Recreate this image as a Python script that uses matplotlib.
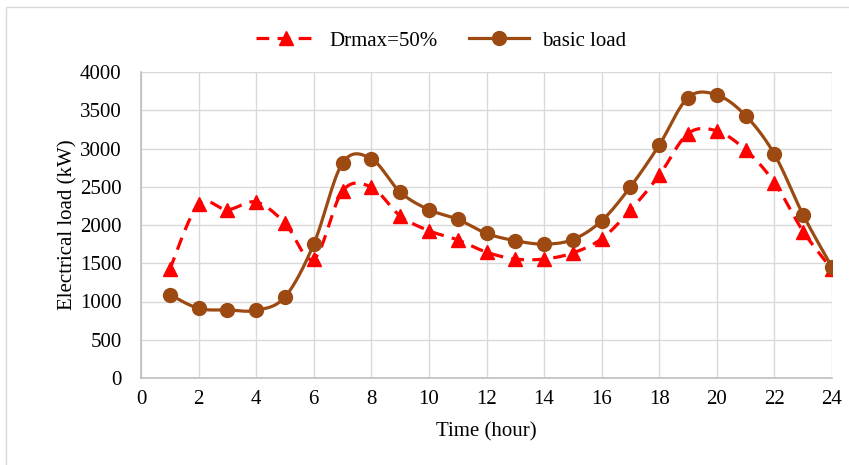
import numpy as np
import matplotlib
matplotlib.use("Agg")
import matplotlib.pyplot as plt
from matplotlib.lines import Line2D
from matplotlib.patches import Rectangle

plt.rcParams['font.family'] = ['Liberation Serif', 'DejaVu Serif']

hours = np.arange(1, 25)
basic_load = [1090, 910, 890, 885, 1060, 1750, 2810, 2865, 2430, 2200, 2075, 1890,
              1795, 1750, 1810, 2055, 2500, 3045, 3665, 3700, 3430, 2925, 2130, 1450]
drmax_50 = [1420, 2270, 2200, 2300, 2025, 1555, 2445, 2495, 2120, 1925, 1805, 1645,
            1555, 1555, 1635, 1820, 2195, 2650, 3195, 3230, 2980, 2555, 1915, 1420]

RED = '#FF0000'
BROWN = '#9C4A12'
FS = 15


def smooth(x, y, n=30):
    # Bezier segments with Catmull-Rom style control points (like Excel's smoothed line)
    x = np.asarray(x, float)
    y = np.asarray(y, float)
    px = np.concatenate([[x[0]], x, [x[-1]]])
    py = np.concatenate([[y[0]], y, [y[-1]]])
    xs, ys = [], []
    t = np.linspace(0, 1, n)
    for i in range(1, len(px) - 2):
        p0 = np.array([px[i], py[i]])
        p3 = np.array([px[i + 1], py[i + 1]])
        p1 = p0 + (np.array([px[i + 1], py[i + 1]]) - np.array([px[i - 1], py[i - 1]])) / 6.0
        p2 = p3 - (np.array([px[i + 2], py[i + 2]]) - np.array([px[i], py[i]])) / 6.0
        b = (np.outer((1 - t) ** 3, p0) + np.outer(3 * (1 - t) ** 2 * t, p1)
             + np.outer(3 * (1 - t) * t ** 2, p2) + np.outer(t ** 3, p3))
        xs.append(b[:, 0])
        ys.append(b[:, 1])
    return np.concatenate(xs), np.concatenate(ys)


fig = plt.figure(figsize=(8.49, 4.65), dpi=100)
fig.patches.append(Rectangle((6 / 849, -0.1), 1.2, 1.1 - 7 / 465,
                             transform=fig.transFigure, fill=False,
                             edgecolor='#D9D9D9', linewidth=1.0))
ax = fig.add_axes([141 / 849, 1 - 378 / 465, (832 - 141) / 849, (378 - 72) / 465])

sx, sy = smooth(hours, drmax_50)
ax.plot(sx, sy, color=RED, linewidth=2.3, dashes=(4, 2.6), zorder=3)
ax.plot(hours, drmax_50, linestyle='none', marker='^', markersize=10,
        color=RED, zorder=4)

sx, sy = smooth(hours, basic_load)
ax.plot(sx, sy, color=BROWN, linewidth=2.3, zorder=5)
ax.plot(hours, basic_load, linestyle='none', marker='o', markersize=10,
        color=BROWN, zorder=6)

ax.set_xlim(0, 24)
ax.set_ylim(0, 4000)
ax.set_xticks(np.arange(0, 25, 2))
ax.set_yticks(np.arange(0, 4001, 500))
ax.grid(True, color='#D9D9D9', linewidth=1.0)
ax.set_axisbelow(True)
for s in ['top', 'right']:
    ax.spines[s].set_visible(False)
for s in ['left', 'bottom']:
    ax.spines[s].set_color('#BFBFBF')
    ax.spines[s].set_linewidth(1.2)
ax.tick_params(axis='y', length=0, labelsize=FS, pad=14)
ax.tick_params(axis='x', length=0, labelsize=FS, pad=9)
ax.set_xlabel('Time (hour)', fontsize=FS, labelpad=9)
ax.set_ylabel('Electrical load (kW)', fontsize=FS, labelpad=2)

handles = [
    Line2D([], [], color=RED, linewidth=2.3, dashes=(4, 2.6), marker='^', markersize=10),
    Line2D([], [], color=BROWN, linewidth=2.3, marker='o', markersize=10),
]
fig.legend(handles, ['Drmax=50%', 'basic load'], loc='center',
           bbox_to_anchor=(441 / 849, 1 - 41 / 465), ncol=2, frameon=False,
           fontsize=FS, handlelength=2.9, columnspacing=1.5, handletextpad=0.6)

fig.savefig('out.png', dpi=100)
